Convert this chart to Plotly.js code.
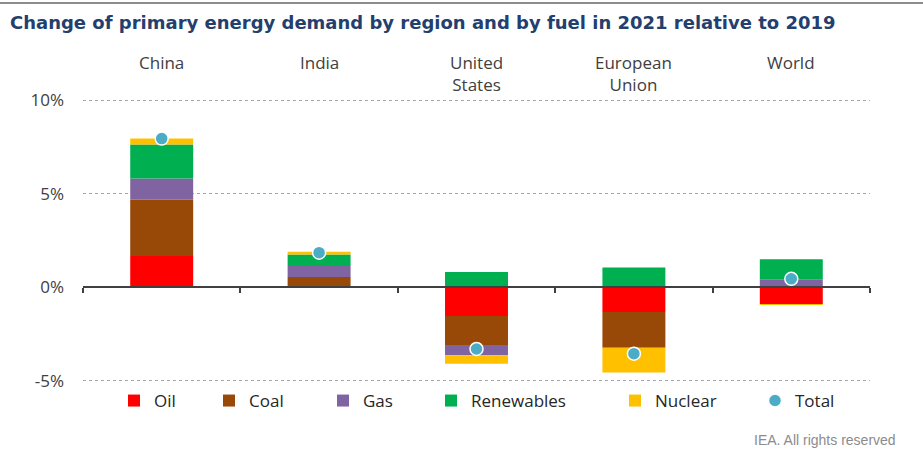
<!DOCTYPE html>
<html>
<head>
<meta charset="utf-8">
<script src="https://cdn.plot.ly/plotly-3.0.1.min.js"></script>
<style>html,body{margin:0;padding:0;background:#fff;}#chart{width:923px;height:471px;}</style>
</head>
<body>
<div id="chart"></div>
<script>
// ---- data (percent change 2021 vs 2019) ----
const categories = ["China", "India", "United States", "European Union", "World"];
const categoryLabels = ["China", "India", "United<br>States", "European<br>Union", "World"];
const oil        = [1.67, 0.00, -1.54, -1.33, -0.90];
const coal       = [3.01, 0.55, -1.55, -1.90, 0.05];
const gas        = [1.13, 0.58, -0.55, 0.00, 0.38];
const renewables = [1.83, 0.62, 0.82, 1.06, 1.07];
const nuclear    = [0.32, 0.15, -0.45, -1.33, -0.05];
const total      = [7.95, 1.85, -3.30, -3.55, 0.45];
const yTickVals  = [-5, 0, 5, 10];
const yTickText  = ["-5%", "0%", "5%", "10%"];

const seriesNames = ["Oil", "Coal", "Gas", "Renewables", "Nuclear"];
const seriesData  = [oil, coal, gas, renewables, nuclear];
const seriesColors = ["#FF0000", "#984807", "#8064A2", "#00B050", "#FFC000"];

// layout geometry
const W = 923, H = 471;
const Y_MIN = -5, Y_MAX = 10, PADV = 0.12;
const yRange = [Y_MIN - PADV, Y_MAX + PADV];
const pxPerUnit = (381 - 100) / (Y_MAX - Y_MIN);
const MT = Math.round(100 - PADV * pxPerUnit);
const MB = Math.round(H - (381 + PADV * pxPerUnit));
const ML = 83, MR = 53;
const PW = W - ML - MR, PH = H - MT - MB;
const px2x = p => (p - ML) / PW;
const py2y = p => (H - MB - p) / PH;

// legend marker left edges (px) in the reference
const legendMarkerX = [133, 228, 342, 450, 634, 774];
const legendFont = {family: "Open Sans, sans-serif", size: 17, color: "#262626"};

const traces = seriesNames.map((n, i) => ({
  type: "bar",
  name: n,
  x: categories,
  y: seriesData[i],
  marker: {color: seriesColors[i], line: {width: 0}},
  legend: i === 0 ? "legend" : "legend" + (i + 1),
  hoverinfo: "x+y+name"
}));
traces.push({
  type: "scatter",
  mode: "markers",
  name: "Total",
  x: categories,
  y: total,
  marker: {color: "#4BACC6", size: 13, line: {color: "#FFFFFF", width: 1.5}},
  legend: "legend6"
});

const layout = {
  width: W, height: H,
  margin: {l: ML, r: MR, t: MT, b: MB, pad: 0},
  paper_bgcolor: "#FFFFFF",
  plot_bgcolor: "#FFFFFF",
  barmode: "relative",
  bargap: 0.6,
  showlegend: true,
  title: {
    text: "<b>Change of primary energy demand by region and by fuel in 2021 relative to 2019</b>",
    font: {family: "DejaVu Sans, sans-serif", size: 18, color: "#243F6E"},
    x: 10 / W, xanchor: "left", xref: "container",
    y: 1 - 23 / H, yanchor: "middle", yref: "container"
  },
  xaxis: {
    type: "category",
    range: [-0.5, 4.5],
    anchor: "free",
    position: (0 - yRange[0]) / (yRange[1] - yRange[0]),
    showline: true, linecolor: "#404040", linewidth: 2,
    ticks: "outside", tickson: "boundaries", ticklen: 5, tickwidth: 2, tickcolor: "#404040",
    showticklabels: false, showgrid: false, zeroline: false, fixedrange: true
  },
  yaxis: {
    range: yRange,
    domain: [0, 1],
    tickvals: yTickVals, ticktext: yTickText,
    tickfont: {family: "Open Sans, sans-serif", size: 17, color: "#404040"},
    ticks: "", ticklabelstandoff: 18,
    showgrid: true, gridcolor: "#A6A6A6", griddash: "dot", gridwidth: 1,
    zeroline: false, showline: false, fixedrange: true
  },
  annotations: [],
  shapes: [{
    type: "line", xref: "paper", yref: "paper",
    x0: px2x(0), x1: px2x(W), y0: py2y(3), y1: py2y(3),
    line: {color: "#8C8C8C", width: 2}
  }]
};

categories.forEach((c, i) => {
  layout.annotations.push({
    x: c, xref: "x", y: py2y(49), yref: "paper",
    text: categoryLabels[i], showarrow: false,
    xanchor: "center", yanchor: "top", align: "center",
    font: {family: "Open Sans, sans-serif", size: 17, color: "#404040"}
  });
});
layout.annotations.push({
  x: px2x(752), xref: "paper", y: py2y(440), yref: "paper",
  text: "IEA. All rights reserved", showarrow: false,
  xanchor: "left", yanchor: "middle",
  font: {family: "Liberation Sans, Arial, sans-serif", size: 14, color: "#8C8C8C"}
});

legendMarkerX.forEach((lx, i) => {
  const key = i === 0 ? "legend" : "legend" + (i + 1);
  layout[key] = {
    x: px2x(lx - 19), xanchor: "left",
    y: py2y(401), yanchor: "middle",
    orientation: "h", font: legendFont,
    bgcolor: "rgba(0,0,0,0)", itemwidth: 30, tracegroupgap: 0
  };
});

Plotly.newPlot("chart", traces, layout, {displayModeBar: false, staticPlot: true});
</script>
</body>
</html>
